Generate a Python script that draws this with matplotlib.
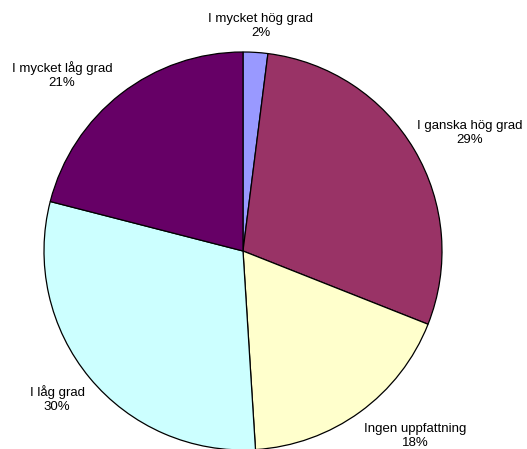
import matplotlib.pyplot as plt

plt.rcParams['font.family'] = ['Liberation Sans', 'DejaVu Sans']

labels = ['I mycket hög grad', 'I ganska hög grad', 'Ingen uppfattning',
          'I låg grad', 'I mycket låg grad']
values = [2, 29, 18, 30, 21]
colors = ['#9999FF', '#993366', '#FFFFCC', '#CCFFFF', '#660066']

# label anchors in pixel coordinates (y measured from top)
label_pos = [(261, 26), (470, 133), (415, 436), (57, 399), (62, 75)]

W, H = 527, 449
fig = plt.figure(figsize=(W / 100, H / 100), dpi=100)
ax = fig.add_axes([0, 0, 1, 1])

ax.pie(values, colors=colors, startangle=90, counterclock=False,
       center=(243, H - 251), radius=199, frame=True,
       wedgeprops=dict(edgecolor='black', linewidth=0.9))

# pie() resets the view, so fix the pixel-sized limits afterwards
ax.set_xlim(0, W)
ax.set_ylim(0, H)
ax.set_aspect('equal')
ax.axis('off')

for lab, v, (x, y) in zip(labels, values, label_pos):
    ax.text(x, H - y, '%s\n%d%%' % (lab, v), ha='center', va='center',
            fontsize=9.5, linespacing=1.25, color='black')

fig.savefig('out.png', dpi=100)
plt.close(fig)
